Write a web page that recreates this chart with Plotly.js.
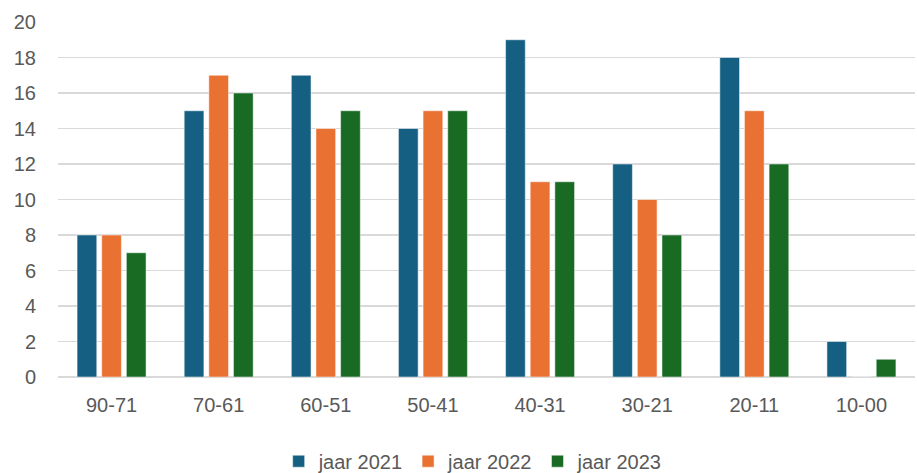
<!DOCTYPE html>
<html>
<head>
<meta charset="utf-8">
<script src="https://cdn.plot.ly/plotly-3.0.1.min.js"></script>
<style>html,body{margin:0;padding:0;background:#fff;}#chart{width:917px;height:473px;}</style>
</head>
<body>
<div id="chart"></div>
<script>
const categories = ["90-71","70-61","60-51","50-41","40-31","30-21","20-11","10-00"];
const jaar2021 = [8,15,17,14,19,12,18,2];
const jaar2022 = [8,17,14,15,11,10,15,0];
const jaar2023 = [7,16,15,15,11,8,12,1];
const seriesNames = ["jaar 2021","jaar 2022","jaar 2023"];
const colors = ["#156082","#E97132","#196B24"];

const data = [jaar2021, jaar2022, jaar2023].map((v,i)=>({
  type:"bar", x:categories, y:v, name:seriesNames[i],
  marker:{color:colors[i], line:{color:"#ffffff", width:0.5}},
  hoverinfo:"x+y+name"
}));

const layout = {
  width:917, height:473,
  margin:{l:58, r:2, t:22, b:96, autoexpand:false},
  paper_bgcolor:"#fff", plot_bgcolor:"#fff",
  font:{family:"Liberation Sans, Arial, sans-serif", size:20, color:"#595959"},
  barmode:"group", bargap:0.31, bargroupgap:0.2,
  xaxis:{type:"category", showgrid:false, zeroline:false, showline:false, ticks:"", ticklen:0, ticklabelstandoff:14, tickfont:{size:20,color:"#595959"}},
  yaxis:{range:[0,20], dtick:2, showgrid:true, gridcolor:"#d9d9d9", gridwidth:1.6, zeroline:true, zerolinecolor:"#d9d9d9", zerolinewidth:1.6, showline:false, ticks:"", ticklabelstandoff:21, tickfont:{size:20,color:"#595959"}},
  legend:{orientation:"h", x:0.516, xanchor:"center", xref:"container", y:0.025, yref:"container", yanchor:"middle", font:{size:20,color:"#595959"}, traceorder:"normal", itemwidth:30},
  showlegend:true
};
Plotly.newPlot("chart", data, layout, {displayModeBar:false, staticPlot:true});
</script>
</body>
</html>
